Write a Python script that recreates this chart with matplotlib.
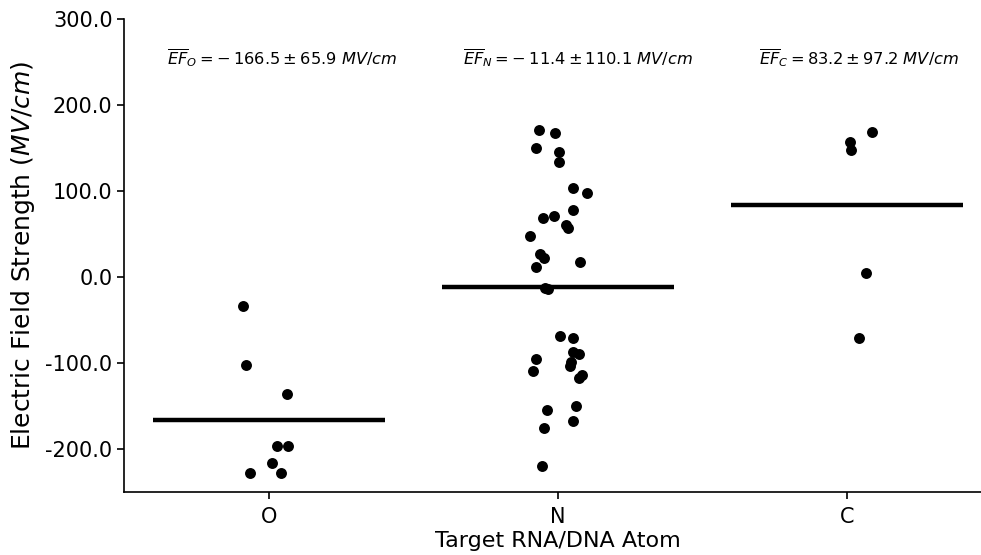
#!/usr/bin/env python3
"""Electric field strength per target RNA/DNA atom (strip plot with means)."""

import matplotlib

matplotlib.use("Agg")
import matplotlib.pyplot as plt
from matplotlib.ticker import FormatStrFormatter

# categories on the x axis
atoms = ["O", "N", "C"]

# field strengths (MV/cm)
ef_o = [-33.7, -102.3, -136.0, -196.5, -196.5, -216.3, -227.9, -227.9]
ef_n = [
    170.9, 167.1, 149.6, 145.0, 133.4, 103.1, 97.3, 77.9, 69.0, 70.6,
    60.5, 56.6, 47.7, 26.4, 22.5, 17.1, 12.0, -13.1, -14.0, -68.6,
    -71.3, -86.8, -89.5, -98.5, -103.5, -95.7, -109.3, -114.0, -117.8,
    -149.6, -154.7, -167.4, -176.0, -219.8,
]
ef_c = [168.3, 157.4, 147.7, 4.3, -70.6]

# horizontal jitter of each point as seen in the picture
jit_o = [-0.088, -0.078, 0.061, 0.029, 0.067, 0.009, -0.067, 0.043]
jit_n = [
    -0.067, -0.009, -0.076, 0.002, 0.002, 0.052, 0.099, 0.052, -0.053, -0.013,
    0.029, 0.033, -0.096, -0.061, -0.050, 0.077, -0.075, -0.044, -0.033, 0.006,
    0.051, 0.052, 0.074, 0.046, 0.040, -0.076, -0.087, 0.083, 0.074,
    0.062, -0.038, 0.052, -0.050, -0.055,
]
jit_c = [0.085, 0.011, 0.014, 0.064, 0.040]

# mean and standard deviation printed above each group
means = [-166.5, -11.4, 83.2]
stds = [65.9, 110.1, 97.2]

groups = [ef_o, ef_n, ef_c]
jitters = [jit_o, jit_n, jit_c]
text_shift = [0.045, 0.07, 0.04]


def fmt_num(v):
    # old-style mathtext look: spaced binary minus after "="
    if v < 0:
        return r"-\:%.1f" % abs(v)
    return "%.1f" % v


fig = plt.figure(figsize=(9.81, 5.55), dpi=100)
ax = fig.add_axes([0.1268, 0.1135, 0.884, 0.8525])

for i, (vals, jit) in enumerate(zip(groups, jitters)):
    xs = [i + j for j in jit]
    ax.scatter(xs, vals, s=62, color="black", linewidths=0, zorder=3)
    ax.hlines(means[i], i - 0.4, i + 0.4, color="black", linewidth=3.2, zorder=2)
    label = r"$\overline{EF}_%s = %s \pm %.1f\ MV/cm$" % (
        atoms[i], fmt_num(means[i]), stds[i])
    ax.text(i + text_shift[i], 255, label, ha="center", va="center", fontsize=11.7)

ax.set_xlim(-0.5, 2.5)
ax.set_ylim(-250, 300)
ax.set_xticks(range(len(atoms)))
ax.set_xticklabels(atoms)
ax.set_yticks([-200, -100, 0, 100, 200, 300])
ax.yaxis.set_major_formatter(FormatStrFormatter("%.1f"))
ax.tick_params(labelsize=15, length=5, width=1.2)
ax.tick_params(axis="x", pad=6)
ax.set_xlabel("Target RNA/DNA Atom", fontsize=16, labelpad=3)
ax.set_ylabel("Electric Field Strength ($MV/cm$)", fontsize=18, labelpad=6)

for side in ("top", "right"):
    ax.spines[side].set_visible(False)
for side in ("left", "bottom"):
    ax.spines[side].set_linewidth(1.2)

fig.savefig("out.png", dpi=100)
